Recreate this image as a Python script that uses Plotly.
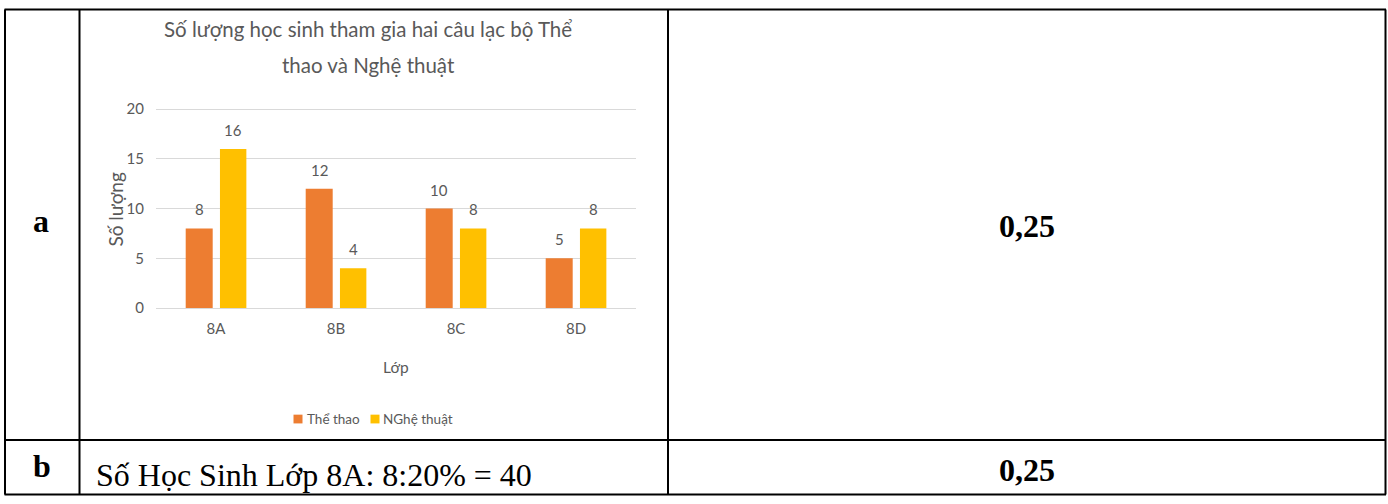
import plotly.graph_objects as go

W, H = 1388, 504

# ---- data ----
classes = ["8A", "8B", "8C", "8D"]
the_thao = [8, 12, 10, 5]
nghe_thuat = [16, 4, 8, 8]
y_ticks = [0, 5, 10, 15, 20]
series_names = ["Thể thao", "NGhệ thuật"]
title_lines = ["Số lượng học sinh tham gia hai câu lạc bộ Thể", "thao và Nghệ thuật"]
x_title = "Lớp"
y_title = "Số lượng"
row_labels = ["a", "b"]
scores = ["0,25", "0,25"]
row_b_text = "Số Học Sinh Lớp 8A: 8:20% = 40"

# ---- style ----
ORANGE = "#ED7D31"
YELLOW = "#FFC000"
GRAY = "#595959"
GRID = "#D9D9D9"
CHART_FONT = "Lato, Liberation Sans, sans-serif"
SERIF = "Liberation Serif, Times New Roman, serif"


def X(px):
    return px / W


def Y(py):
    return 1 - py / H


PX_PER_UNIT = (311 - 107) / 20
Y_MAX = 20.5

fig = go.Figure()
fig.add_trace(go.Bar(x=classes, y=the_thao, name=series_names[0],
                     marker=dict(color=ORANGE, line=dict(width=0)),
                     width=0.225, offset=-0.2525, showlegend=False))
fig.add_trace(go.Bar(x=classes, y=nghe_thuat, name=series_names[1],
                     marker=dict(color=YELLOW, line=dict(width=0)),
                     width=0.22, offset=0.033, showlegend=False))

annotations = []
shapes = []
# data labels
for series, shift in ((the_thao, -17), (nghe_thuat, 17)):
    for c, v in zip(classes, series):
        annotations.append(dict(x=c, y=v, xref="x", yref="y", text=str(v),
                                showarrow=False, xshift=shift, yshift=19,
                                xanchor="center", yanchor="middle",
                                font=dict(family=CHART_FONT, size=15, color=GRAY)))
# chart title
for txt, py, px in zip(title_lines, (25, 62), (368, 368)):
    annotations.append(dict(x=X(px), y=Y(py), xref="paper", yref="paper", text=txt,
                            showarrow=False, xanchor="center", yanchor="middle",
                            font=dict(family=CHART_FONT, size=20.5, color=GRAY)))
# axis titles
annotations.append(dict(x=X(396), y=Y(372), xref="paper", yref="paper", text=x_title,
                        showarrow=False, xanchor="center", yanchor="middle",
                        font=dict(family=CHART_FONT, size=15.5, color=GRAY)))
annotations.append(dict(x=X(116), y=Y(210), xref="paper", yref="paper", text=y_title,
                        showarrow=False, xanchor="center", yanchor="middle", textangle=-90,
                        font=dict(family=CHART_FONT, size=19, color=GRAY)))
# legend (compact, Excel-style)
for name, color, sq_x, tx in zip(series_names, (ORANGE, YELLOW), (293.5, 370.5), (305, 381)):
    shapes.append(dict(type="rect", xref="paper", yref="paper",
                       x0=X(sq_x), x1=X(sq_x + 9), y0=Y(429.5), y1=Y(420.5),
                       fillcolor=color, line=dict(width=0)))
    annotations.append(dict(x=X(tx), y=Y(425), xref="paper", yref="paper", text=name,
                            showarrow=False, xanchor="left", yanchor="middle",
                            font=dict(family=CHART_FONT, size=13.5, color=GRAY)))
# table text
annotations.append(dict(x=X(41), y=Y(222), xref="paper", yref="paper", text="<b>%s</b>" % row_labels[0],
                        showarrow=False, xanchor="center", yanchor="middle",
                        font=dict(family=SERIF, size=32, color="black")))
annotations.append(dict(x=X(42), y=Y(473), xref="paper", yref="paper", text="<b>%s</b>" % row_labels[1],
                        showarrow=False, xanchor="center", yanchor="middle",
                        font=dict(family=SERIF, size=32, color="black")))
annotations.append(dict(x=X(94), y=Y(482.5), xref="paper", yref="paper", text=row_b_text,
                        showarrow=False, xanchor="left", yanchor="middle",
                        font=dict(family=SERIF, size=32, color="black")))
for s, py in zip(scores, (226.5, 477.5)):
    annotations.append(dict(x=X(1027), y=Y(py), xref="paper", yref="paper", text="<b>%s</b>" % s,
                            showarrow=False, xanchor="center", yanchor="middle",
                            font=dict(family=SERIF, size=32, color="black")))


# table borders
def hline(py, x0, x1):
    shapes.append(dict(type="line", xref="paper", yref="paper", x0=X(x0), x1=X(x1),
                       y0=Y(py), y1=Y(py), line=dict(color="black", width=2)))


def vline(px, y0, y1):
    shapes.append(dict(type="line", xref="paper", yref="paper", x0=X(px), x1=X(px),
                       y0=Y(y0), y1=Y(y1), line=dict(color="black", width=2)))


hline(4.5, 4.5, 1386)
hline(446.5, 4.5, 1386)
hline(502.5, 4.5, 1386)
vline(5, 4.5, 502.5)
vline(79.5, 4.5, 502.5)
vline(668, 4.5, 502.5)
vline(1385.5, 4.5, 502.5)

fig.update_layout(
    width=W, height=H,
    margin=dict(l=0, r=0, t=0, b=0),
    paper_bgcolor="white", plot_bgcolor="white",
    barmode="overlay",
    showlegend=False,
    xaxis=dict(domain=[X(156), X(636)], showgrid=False, zeroline=False,
               showline=True, linecolor=GRID, linewidth=1, ticks="",
               tickfont=dict(family=CHART_FONT, size=15, color=GRAY),
               ticklabelstandoff=7, fixedrange=True),
    yaxis=dict(domain=[Y(311), Y(311 - Y_MAX * PX_PER_UNIT)], range=[0, Y_MAX],
               tickvals=y_ticks, showgrid=True, gridcolor=GRID, gridwidth=1,
               zeroline=False, showline=False, ticks="",
               tickfont=dict(family=CHART_FONT, size=15, color=GRAY),
               ticklabelstandoff=11, fixedrange=True),
    annotations=annotations,
    shapes=shapes,
)

fig.write_html("out.html", config={"displayModeBar": False})
